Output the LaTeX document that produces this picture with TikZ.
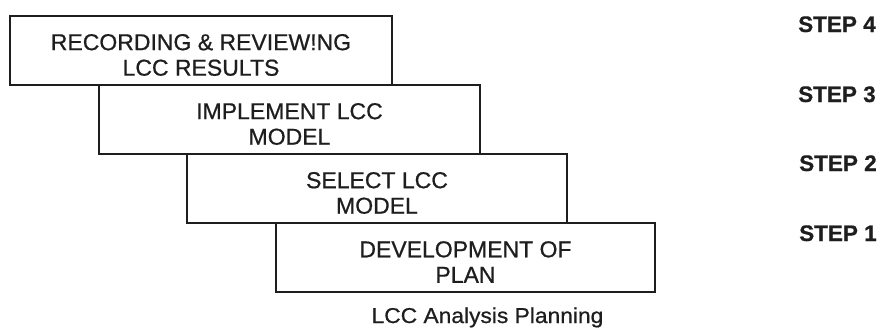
\documentclass[tikz,border=0pt]{standalone}
\usepackage{fontspec}
\setmainfont{Liberation Sans}
\newfontfamily\boxfont[FakeBold=0.7]{Liberation Sans}
\newfontfamily\capfont[FakeStretch=1.06,FakeBold=0.7]{Liberation Sans}
\newfontfamily\stepfont[FakeBold=0.6]{Liberation Sans Bold}
\definecolor{ink}{HTML}{1E1E1E}
\begin{document}
\begin{tikzpicture}[x=1pt,y=-1pt,
  stagebox/.style={draw=ink, line width=1.7pt, rectangle, inner sep=0pt, outer sep=0pt, anchor=north west},
  stagetext/.style={align=center, text=ink, inner sep=0pt, font=\boxfont\fontsize{23}{25.5}\selectfont},
  steplabel/.style={anchor=base west, text=ink, inner sep=0pt, font=\stepfont\fontsize{22.5}{25}\selectfont},
  captext/.style={anchor=base, text=ink, inner sep=0pt, font=\capfont\fontsize{21.5}{24}\selectfont},
]
\useasboundingbox (0,0) rectangle (878,332);
\fill[white] (0,0) rectangle (878,332);

% staircase of stages, top (step 4) to bottom (step 1)
\node[stagebox, minimum width=382pt, minimum height=69pt] (s4) at (10,16) {};
\node[stagebox, minimum width=381pt, minimum height=69pt] (s3) at (99,85) {};
\node[stagebox, minimum width=380pt, minimum height=69pt] (s2) at (187,154) {};
\node[stagebox, minimum width=379pt, minimum height=69pt] (s1) at (276,223) {};

% stage titles, sitting a little below each box centre
\node[stagetext, yshift=-4.5pt] (t4) at (s4.center) {RECORDING \& REVIEW!NG\\LCC RESULTS};
\node[stagetext, yshift=-4.5pt] (t3) at (s3.center) {IMPLEMENT LCC\\MODEL};
\node[stagetext, yshift=-4.5pt] (t2) at (s2.center) {SELECT LCC\\MODEL};
\node[stagetext, yshift=-4.5pt] (t1) at (s1.center) {DEVELOPMENT OF\\PLAN};

% step numbers down the right-hand side
\node[steplabel] (l4) at (798,32) {STEP 4};
\node[steplabel] (l3) at (798,102) {STEP 3};
\node[steplabel] (l2) at (799,171) {STEP 2};
\node[steplabel] (l1) at (799,241) {STEP 1};

% caption under the staircase
\node[captext] (cap) at (487.5,323) {LCC Analysis Planning};
\end{tikzpicture}
\end{document}
